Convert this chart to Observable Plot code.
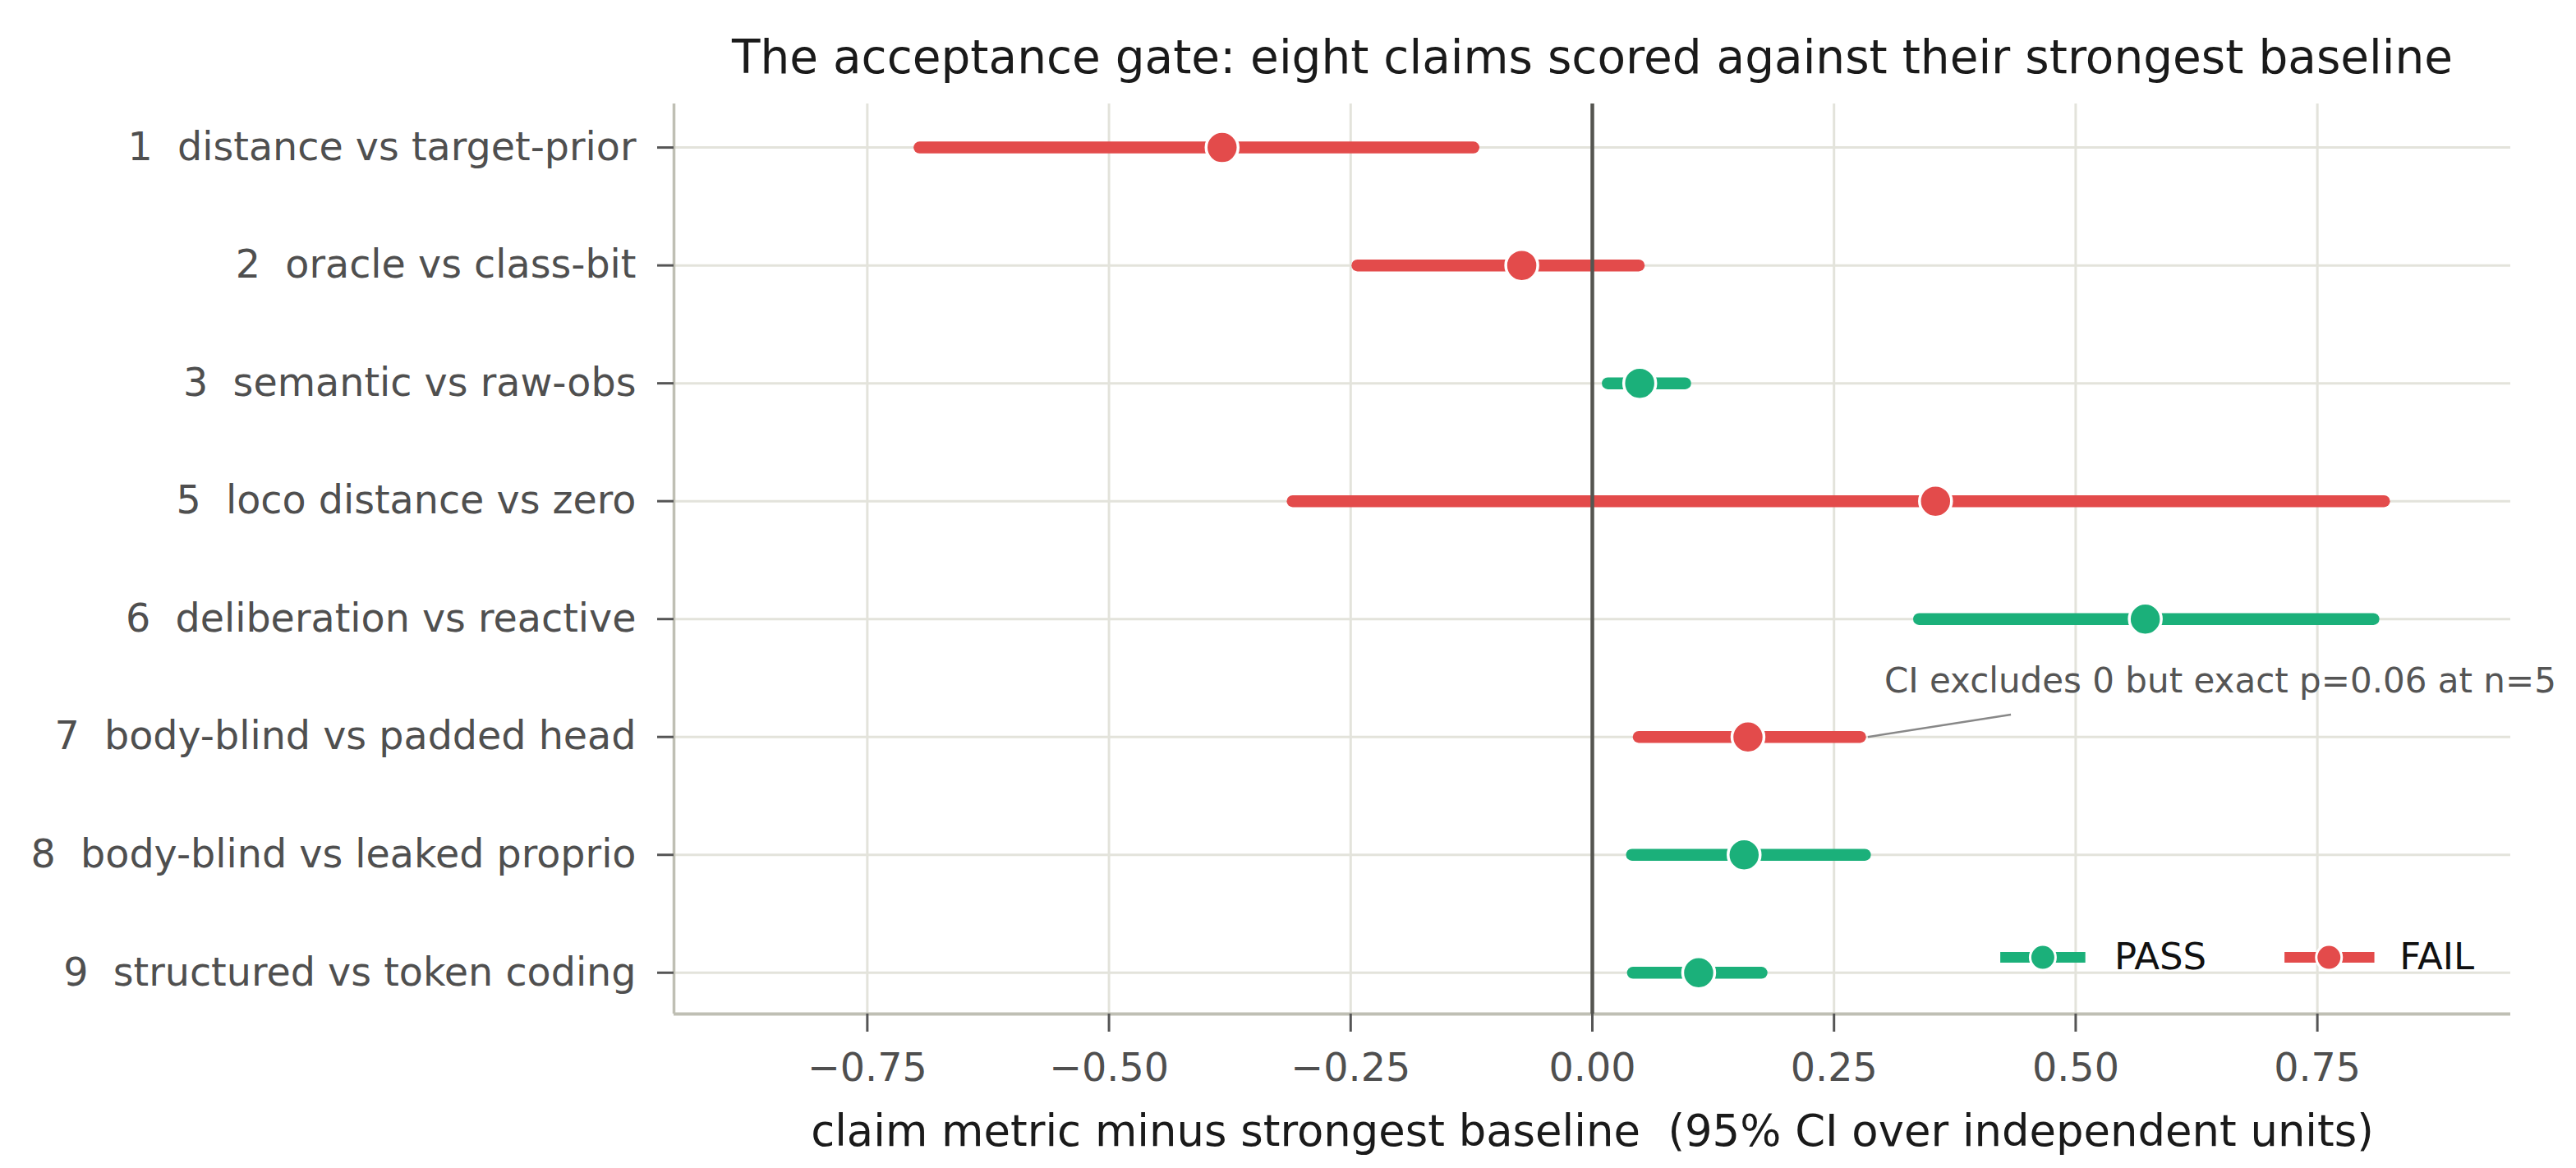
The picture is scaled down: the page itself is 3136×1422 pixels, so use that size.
<!DOCTYPE html>
<html><head><meta charset="utf-8">
<script src="https://cdn.jsdelivr.net/npm/d3@7"></script>
<script src="https://cdn.jsdelivr.net/npm/@observablehq/plot@0.6"></script>
<style>
body{margin:0;background:#fff}
svg text{white-space:pre}
</style>
</head><body><div id="chart"></div>
<script>
// ---- data ----
const claims = [
  "1  distance vs target-prior",
  "2  oracle vs class-bit",
  "3  semantic vs raw-obs",
  "5  loco distance vs zero",
  "6  deliberation vs reactive",
  "7  body-blind vs padded head",
  "8  body-blind vs leaked proprio",
  "9  structured vs token coding"
];
const estimates = [-0.383, -0.073, 0.049, 0.355, 0.572, 0.161, 0.157, 0.110];
const ciLow     = [-0.696, -0.243, 0.016, -0.310, 0.338, 0.048, 0.041, 0.042];
const ciHigh    = [-0.123,  0.048, 0.096,  0.819, 0.808, 0.277, 0.282, 0.175];
const verdicts  = ["FAIL", "FAIL", "PASS", "FAIL", "PASS", "FAIL", "PASS", "PASS"];
const xTicks = [-0.75, -0.5, -0.25, 0, 0.25, 0.5, 0.75];
const statusNames = ["PASS", "FAIL"];
const statusColors = ["#1bb07a", "#e34b4b"];

const titleText = "The acceptance gate: eight claims scored against their strongest baseline";
const xLabelText = "claim metric minus strongest baseline  (95% CI over independent units)";
const noteText = "CI excludes 0 but exact p=0.06 at n=5";
// annotation anchor (in data units)
const noteLine = [{x1: 0.285, y1: 5, x2: 0.433, y2: 4.81}];
const notePos = [{x: 0.302, y: 4.53}];
// legend items (data units inside the frame)
const legendItems = [
  {status: "PASS", x1: 0.422, x2: 0.510, xd: 0.466, xt: 0.540, y: 6.87},
  {status: "FAIL", x1: 0.716, x2: 0.809, xd: 0.762, xt: 0.835, y: 6.87}
];

const xDomain = [-0.95, 0.95];
const yDomain = [-0.37, 7.35];

const data = claims.map((c, i) => ({
  i, claim: c, est: estimates[i], lo: ciLow[i], hi: ciHigh[i], verdict: verdicts[i]
}));

const chart = Plot.plot({
  width: 3136,
  height: 1422,
  marginLeft: 820,
  marginRight: 80,
  marginTop: 126,
  marginBottom: 188,
  style: {fontFamily: "DejaVu Sans", fontSize: "47px", background: "#fff", color: "#505050"},
  x: {domain: xDomain},
  y: {domain: yDomain, reverse: true},
  color: {domain: statusNames, range: statusColors},
  marks: [
    Plot.ruleX(xTicks, {stroke: "#e3e3db", strokeWidth: 3}),
    Plot.ruleY(d3.range(claims.length), {stroke: "#e3e3db", strokeWidth: 3}),
    Plot.ruleX([xDomain[0]], {stroke: "#bfbfb4", strokeWidth: 3.5}),
    Plot.ruleY([yDomain[1]], {stroke: "#bfbfb4", strokeWidth: 4}),
    Plot.link(data, {x1: "lo", x2: "hi", y1: "i", y2: "i", stroke: "verdict", strokeWidth: 14.5, strokeLinecap: "round"}),
    Plot.ruleX([0], {stroke: "#555550", strokeWidth: 4.5}),
    Plot.dot(data, {x: "est", y: "i", fill: "verdict", stroke: "white", strokeWidth: 3.5, r: 19.5}),
    // annotation
    Plot.link(noteLine, {x1: "x1", y1: "y1", x2: "x2", y2: "y2", stroke: "#888", strokeWidth: 2.5}),
    Plot.text(notePos, {x: "x", y: "y", text: () => noteText, textAnchor: "start", fontSize: 42, fill: "#555"}),
    // legend
    Plot.link(legendItems, {x1: "x1", x2: "x2", y1: "y", y2: "y", stroke: "status", strokeWidth: 13}),
    Plot.dot(legendItems, {x: "xd", y: "y", fill: "status", stroke: "white", strokeWidth: 3, r: 15.5}),
    Plot.text(legendItems, {x: "xt", y: "y", text: "status", textAnchor: "start", fontSize: 45, fill: "#111"}),
    // axes
    Plot.axisY({ticks: d3.range(claims.length), tickFormat: i => claims[i], tickSize: 20, tickPadding: 26,
      stroke: "#555", strokeWidth: 3, fill: "#4f4f4f", fontSize: 47.6, label: null}),
    Plot.axisX({ticks: xTicks, tickFormat: d3.format(".2f"), tickSize: 22, tickPadding: 26,
      stroke: "#555", strokeWidth: 3, fill: "#4f4f4f", fontSize: 47.6, label: null}),
    // title and x label
    Plot.text([titleText], {frameAnchor: "top", dy: -56, text: d => d, fontSize: 56.5, fill: "#1a1a1a", lineAnchor: "middle"}),
    Plot.text([xLabelText], {frameAnchor: "bottom", dy: 144, text: d => d, fontSize: 52.8, fill: "#1a1a1a", lineAnchor: "middle"})
  ]
});
document.getElementById("chart").appendChild(chart);
</script>
</body></html>
